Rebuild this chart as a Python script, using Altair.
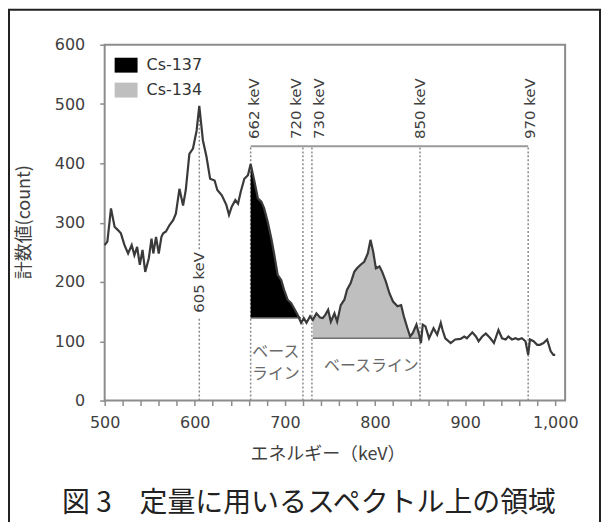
import altair as alt
import pandas as pd

# ---- spectrum ----
energy = [500, 503, 507, 511, 515, 518, 522, 526, 530, 533, 536, 539, 542, 545, 549,
          552, 554, 557, 560, 563, 565, 568, 572, 576, 579, 583, 587, 590, 594, 598,
          602, 605, 609, 613, 617, 622, 625, 630, 635, 638, 641, 645, 648, 651, 655,
          659, 662, 666, 670, 674, 677, 681, 685, 688, 692, 696, 699, 703, 707, 710,
          714, 718, 721, 724, 728, 731, 735, 739, 742, 745, 748, 751, 755, 758, 762,
          766, 769, 773, 777, 780, 784, 788, 792, 795, 798, 801, 805, 808, 812, 816,
          820, 825, 829, 832, 836, 839, 842, 846, 849, 851, 853, 856, 860, 865, 869,
          873, 875, 878, 884, 889, 895, 899, 902, 908, 912, 915, 919, 923, 928, 932,
          937, 941, 945, 948, 952, 956, 959, 963, 967, 970, 972, 976, 980, 983, 987,
          991, 995, 998, 1000]
counts = [262, 268, 324, 293, 287, 282, 262, 248, 262, 245, 259, 229, 254, 217, 240,
          273, 248, 276, 248, 276, 282, 285, 296, 304, 315, 357, 329, 355, 416, 425,
          455, 497, 439, 411, 374, 371, 355, 346, 330, 313, 327, 338, 332, 352, 374,
          380, 399, 371, 341, 335, 324, 301, 273, 248, 212, 203, 187, 170, 164, 156,
          145, 131, 139, 131, 142, 136, 147, 140, 139, 145, 153, 133, 147, 133, 161,
          170, 187, 198, 217, 223, 229, 234, 248, 271, 251, 223, 226, 217, 201, 181,
          167, 159, 161, 142, 122, 108, 114, 128, 111, 97, 128, 125, 105, 122, 111,
          131, 119, 105, 97, 103, 104, 108, 105, 115, 108, 100, 108, 113, 105, 97,
          119, 105, 103, 108, 103, 105, 103, 105, 100, 77, 103, 100, 94, 94, 97,
          103, 83, 77, 77]

# ---- quantification regions ----
regions = ["Cs-137", "Cs-134"]
region_start = [662, 731]
region_end = [718, 849]
region_base = [139, 105]
region_colors = ["#000000", "#bfbfbf"]

# ---- dotted marker lines ----
marker_x = [605, 605, 662, 720, 730, 850, 970]
marker_y0 = [0, 255, 0, 0, 0, 0, 0]
marker_y1 = [140, 497, 429, 429, 429, 429, 429]

bracket_from, bracket_to, bracket_y = 662, 970, 429

# ---- labels ----
top_labels = ["662 keV", "720 keV", "730 keV", "850 keV", "970 keV"]
top_label_x = [665.7, 712.3, 737.4, 850, 971.7]
top_label_y = [441, 441, 441, 441, 441]
side_label = ["605 keV"]
side_label_x = [605]
side_label_y = [148]
base_labels = ["ベース", "ライン", "ベースライン"]
base_label_x = [690, 690, 796]
base_label_y = [81, 44, 58]

x_ticks = list(range(500, 1001, 20))
y_ticks = list(range(0, 601, 100))

x_title = "エネルギー（keV）"
y_title = "計数値(count)"
caption = "図 3　定量に用いるスペクトル上の領域"

JP = "Noto Sans CJK JP"
LAT = "DejaVu Sans"

spec = pd.DataFrame({"energy": energy, "count": counts})

fill_rows = []
for name, s, e, b in zip(regions, region_start, region_end, region_base):
    for x, c in zip(energy, counts):
        if s <= x <= e:
            fill_rows.append({"series": name, "energy": x, "top": max(c, b), "base": b})
fills = pd.DataFrame(fill_rows)

xs = alt.Scale(domain=[500, 1011], nice=False, zero=False)
ys = alt.Scale(domain=[0, 600], nice=False)

x_axis = alt.Axis(
    values=x_ticks, tickCount=len(x_ticks) + 5,
    labelExpr="datum.value % 100 == 0 ? format(datum.value, ',') : ''",
    title=None, labelOverlap=False, labelFlush=False,
    labelFont=LAT, labelFontSize=16, labelColor="#404040", labelPadding=9,
    tickSize=5, tickColor="#8c8c8c", tickWidth=1.5, domain=False, grid=False,
)
y_axis = alt.Axis(
    values=y_ticks, tickCount=len(y_ticks) + 5, title=None,
    labelOverlap=False, labelFlush=False,
    labelFont=LAT, labelFontSize=16, labelColor="#404040", labelPadding=15,
    tickSize=5, tickColor="#8c8c8c", tickWidth=1.5, domain=False, grid=False,
)

markers = pd.DataFrame({"x": marker_x, "y0": marker_y0, "y1": marker_y1})
rules = alt.Chart(markers).mark_rule(
    color="#8a8a8a", strokeWidth=1.5, strokeDash=[2, 2]
).encode(
    x=alt.X("x:Q", scale=xs, axis=x_axis),
    y=alt.Y("y0:Q", scale=ys, axis=y_axis),
    y2="y1:Q",
)

area = alt.Chart(fills).mark_area(interpolate="linear").encode(
    x=alt.X("energy:Q", scale=xs),
    y=alt.Y("top:Q", scale=ys),
    y2="base:Q",
    color=alt.Color(
        "series:N",
        scale=alt.Scale(domain=regions, range=region_colors),
        legend=alt.Legend(
            orient="none", legendX=10, legendY=9, title=None, padding=0,
            symbolType="M-1,-0.65L1,-0.65L1,0.65L-1,0.65Z", symbolSize=529,
            symbolStrokeWidth=0, labelFont=LAT, labelFontSize=16,
            labelColor="#333333", labelOffset=9, rowPadding=5,
        ),
    ),
)

bases = pd.DataFrame({"s": region_start, "e": region_end, "b": region_base})
base_rules = alt.Chart(bases).mark_rule(color="#707070", strokeWidth=1.5).encode(
    x=alt.X("s:Q", scale=xs), x2="e:Q", y=alt.Y("b:Q", scale=ys)
)

line = alt.Chart(spec).mark_line(color="#3a3a3a", strokeWidth=2.2).encode(
    x=alt.X("energy:Q", scale=xs), y=alt.Y("count:Q", scale=ys)
)

bracket = alt.Chart(pd.DataFrame({"a": [bracket_from], "b": [bracket_to], "y": [bracket_y]})).mark_rule(
    color="#9a9a9a", strokeWidth=2
).encode(x=alt.X("a:Q", scale=xs), x2="b:Q", y=alt.Y("y:Q", scale=ys))

top_txt = alt.Chart(pd.DataFrame({"t": top_labels + side_label,
                                  "x": top_label_x + side_label_x,
                                  "y": top_label_y + side_label_y})).mark_text(
    angle=270, align="left", baseline="middle", font=LAT, fontSize=15, color="#404040"
).encode(x=alt.X("x:Q", scale=xs), y=alt.Y("y:Q", scale=ys), text="t:N")

base_txt = alt.Chart(pd.DataFrame({"t": base_labels, "x": base_label_x, "y": base_label_y})).mark_text(
    font=JP, fontSize=16, color="#6a6a6a", baseline="middle"
).encode(x=alt.X("x:Q", scale=xs), y=alt.Y("y:Q", scale=ys), text="t:N")

titles = pd.DataFrame({"t": [x_title, y_title, caption]})
xt = alt.Chart(titles).transform_filter(alt.datum.t == x_title).mark_text(
    font=JP, fontSize=18, color="#404040", baseline="middle", align="center"
).encode(x=alt.value(224), y=alt.value(412), text="t:N")
yt = alt.Chart(titles).transform_filter(alt.datum.t == y_title).mark_text(
    font=JP, fontSize=18, color="#404040", baseline="middle", align="center", angle=270
).encode(x=alt.value(-80), y=alt.value(178), text="t:N")
cap = alt.Chart(titles).transform_filter(alt.datum.t == caption).mark_text(
    font=JP, fontSize=28, color="#222222", baseline="middle", align="center"
).encode(x=alt.value(205), y=alt.value(461), text="t:N")

frame = alt.Chart(pd.DataFrame({"k": [0]})).mark_rect(
    fillOpacity=0, stroke="#222222", strokeWidth=2
).encode(x=alt.value(-96), x2=alt.value(497), y=alt.value(-35), y2=alt.value(530))

chart = alt.layer(rules, area, base_rules, line, bracket, top_txt, base_txt,
                  xt, yt, cap, frame).properties(
    width=462, height=357,
    padding={"left": 97, "top": 36, "right": 36, "bottom": 121},
    autosize=alt.AutoSizeParams(type="none"),
).configure_view(stroke="#8c8c8c", strokeWidth=2)

chart.save("out.html", embed_options={"renderer": "svg", "actions": False})
